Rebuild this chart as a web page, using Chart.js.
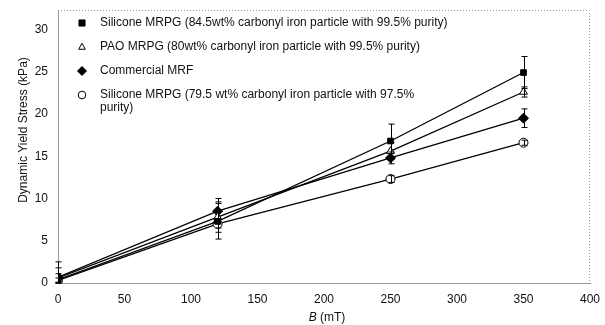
<!DOCTYPE html>
<html>
<head>
<meta charset="utf-8">
<script src="https://cdn.jsdelivr.net/npm/chart.js@4/dist/chart.umd.min.js"></script>
<style>
  html, body { margin: 0; padding: 0; background: #fff; }
  #wrap { width: 605px; height: 325px; position: relative; }
</style>
</head>
<body>
<div id="wrap"><canvas id="c" width="605" height="325"></canvas></div>
<script>
// ---- data ----
const fieldB = [0, 120, 250, 350];            // mT
const siliconeA = [0.4, 7.3, 16.8, 24.9];     // 84.5wt% 99.5%
const paoMRPG  = [0.6, 7.8, 15.6, 22.6];
const commercialMRF = [0.7, 8.5, 14.8, 19.5];
const siliconeB = [0.3, 7.0, 12.3, 16.6];     // 79.5 wt% 97.5%
const errSiliconeA = [2.1, 2.1, 2.0, 1.9];
const errPao = [0.5, 1.8, 1.0, 0.6];
const errCommercial = [1.1, 1.5, 0.7, 1.1];
const errSiliconeB = [0.3, 0.5, 0.4, 0.3];
const seriesLabels = [
  'Silicone MRPG (84.5wt% carbonyl iron particle with 99.5% purity)',
  'PAO MRPG (80wt% carbonyl iron particle with 99.5% purity)',
  'Commercial MRF',
  'Silicone MRPG (79.5 wt% carbonyl iron particle with 97.5% purity)'
];
const legendLines = [
  ['Silicone MRPG (84.5wt% carbonyl iron particle with 99.5% purity)'],
  ['PAO MRPG (80wt% carbonyl iron particle with 99.5% purity)'],
  ['Commercial MRF'],
  ['Silicone MRPG (79.5 wt% carbonyl iron particle with 97.5%', 'purity)']
];
const xTicks = [0, 50, 100, 150, 200, 250, 300, 350, 400];
const yTicks = [0, 5, 10, 15, 20, 25, 30];
const yTitle = 'Dynamic Yield Stress (kPa)';
const xTitleVar = 'B';
const xTitleUnit = ' (mT)';

const FONT = '"Liberation Sans", Arial, sans-serif';

function pts(vals) { return fieldB.map((x, i) => ({x: x, y: vals[i]})); }

const styles = [
  {pointStyle: 'rect', radius: 4, fill: '#000'},
  {pointStyle: 'triangle', radius: 4.5, fill: '#fff'},
  {pointStyle: 'rectRot', radius: 5, fill: '#000'},
  {pointStyle: 'circle', radius: 4.5, fill: '#fff'}
];
const allVals = [siliconeA, paoMRPG, commercialMRF, siliconeB];
const allErr = [errSiliconeA, errPao, errCommercial, errSiliconeB];

const datasets = allVals.map((v, i) => ({
  label: seriesLabels[i],
  data: pts(v),
  errors: allErr[i],
  showLine: true,
  borderColor: '#000',
  borderWidth: 1.3,
  backgroundColor: styles[i].fill,
  pointBackgroundColor: styles[i].fill,
  pointBorderColor: '#000',
  pointBorderWidth: 1,
  pointStyle: styles[i].pointStyle,
  pointRadius: styles[i].radius,
  tension: 0
}));

function drawMarker(ctx, style, r, fill, x, y) {
  ctx.save();
  ctx.fillStyle = fill; ctx.strokeStyle = '#000'; ctx.lineWidth = 1;
  ctx.beginPath();
  if (style === 'rect') {
    ctx.rect(x - r * 0.8, y - r * 0.8, r * 1.6, r * 1.6);
  } else if (style === 'triangle') {
    ctx.moveTo(x, y - r); ctx.lineTo(x + r * 0.87, y + r * 0.6); ctx.lineTo(x - r * 0.87, y + r * 0.6); ctx.closePath();
  } else if (style === 'rectRot') {
    ctx.moveTo(x, y - r); ctx.lineTo(x + r, y); ctx.lineTo(x, y + r); ctx.lineTo(x - r, y); ctx.closePath();
  } else {
    ctx.arc(x, y, r, 0, Math.PI * 2);
  }
  ctx.fill(); ctx.stroke();
  ctx.restore();
}

const decor = {
  id: 'decor',
  afterDatasetsDraw(chart) {
    const ctx = chart.ctx;
    const xs = chart.scales.x, ys = chart.scales.y;
    const area = chart.chartArea;
    // error bars
    ctx.save();
    ctx.strokeStyle = '#000';
    ctx.lineWidth = 1;
    chart.data.datasets.forEach(ds => {
      ds.data.forEach((p, j) => {
        const e = ds.errors[j];
        const px = Math.round(xs.getPixelForValue(p.x)) + 0.5;
        const top = ys.getPixelForValue(p.y + e);
        const bot = ys.getPixelForValue(Math.max(0, p.y - e));
        ctx.beginPath();
        ctx.moveTo(px, top); ctx.lineTo(px, bot);
        ctx.moveTo(px - 3, top); ctx.lineTo(px + 3, top);
        ctx.moveTo(px - 3, bot); ctx.lineTo(px + 3, bot);
        ctx.stroke();
      });
    });
    ctx.restore();
    // top & right dotted frame
    ctx.save();
    ctx.strokeStyle = '#999';
    ctx.lineWidth = 1;
    ctx.setLineDash([1, 2]);
    ctx.beginPath();
    ctx.moveTo(area.left, area.top + 0.5); ctx.lineTo(area.right, area.top + 0.5);
    ctx.moveTo(area.right - 0.5, area.top); ctx.lineTo(area.right - 0.5, area.bottom);
    ctx.stroke();
    ctx.restore();
    // legend
    ctx.save();
    ctx.font = '12px ' + FONT;
    ctx.fillStyle = '#111';
    ctx.textBaseline = 'middle';
    ctx.textAlign = 'left';
    legendLines.forEach((lines, i) => {
      const y = 23 + i * 24;
      drawMarker(ctx, styles[i].pointStyle, i === 2 ? 4.5 : 3.8, styles[i].fill, 82, y);
      lines.forEach((t, k) => ctx.fillText(t, 100, y + k * 13));
    });
    ctx.restore();
    // axis titles
    ctx.save();
    ctx.fillStyle = '#111';
    ctx.font = '12px ' + FONT;
    ctx.textBaseline = 'middle';
    ctx.translate(24, 130);
    ctx.rotate(-Math.PI / 2);
    ctx.textAlign = 'center';
    ctx.fillText(yTitle, 0, 0);
    ctx.restore();
    ctx.save();
    ctx.fillStyle = '#111';
    ctx.textBaseline = 'middle';
    ctx.font = 'italic 12px ' + FONT;
    const w1 = ctx.measureText(xTitleVar).width;
    ctx.font = '12px ' + FONT;
    const w2 = ctx.measureText(xTitleUnit).width;
    const x0 = 327 - (w1 + w2) / 2;
    ctx.font = 'italic 12px ' + FONT;
    ctx.fillText(xTitleVar, x0, 318);
    ctx.font = '12px ' + FONT;
    ctx.fillText(xTitleUnit, x0 + w1, 318);
    ctx.restore();
  }
};

new Chart(document.getElementById('c'), {
  type: 'scatter',
  data: { datasets: datasets },
  plugins: [decor],
  options: {
    responsive: false,
    animation: false,
    devicePixelRatio: 1,
    layout: { padding: { top: 10, right: 15, left: 0, bottom: 0 } },
    plugins: { legend: { display: false }, tooltip: { enabled: false } },
    scales: {
      x: {
        type: 'linear', min: 0, max: 400,
        afterBuildTicks: s => { s.ticks = xTicks.map(v => ({value: v})); },
        afterFit: s => { s.height = 42; s.paddingLeft = 0; s.paddingRight = 0; },
        grid: { display: false, drawTicks: false },
        border: { display: true, color: '#999', dash: [1, 2], width: 1 },
        ticks: { color: '#111', font: { family: FONT, size: 12 }, padding: 9, maxRotation: 0 }
      },
      y: {
        type: 'linear', min: 0, max: 32.3,
        afterBuildTicks: s => { s.ticks = yTicks.map(v => ({value: v})); },
        afterFit: s => { s.width = 58; s.paddingTop = 0; s.paddingBottom = 0; },
        grid: { display: false, drawTicks: false },
        border: { display: true, color: '#999', dash: [1, 2], width: 1 },
        ticks: { color: '#111', font: { family: FONT, size: 12 }, padding: 10 }
      }
    }
  }
});
</script>
</body>
</html>
